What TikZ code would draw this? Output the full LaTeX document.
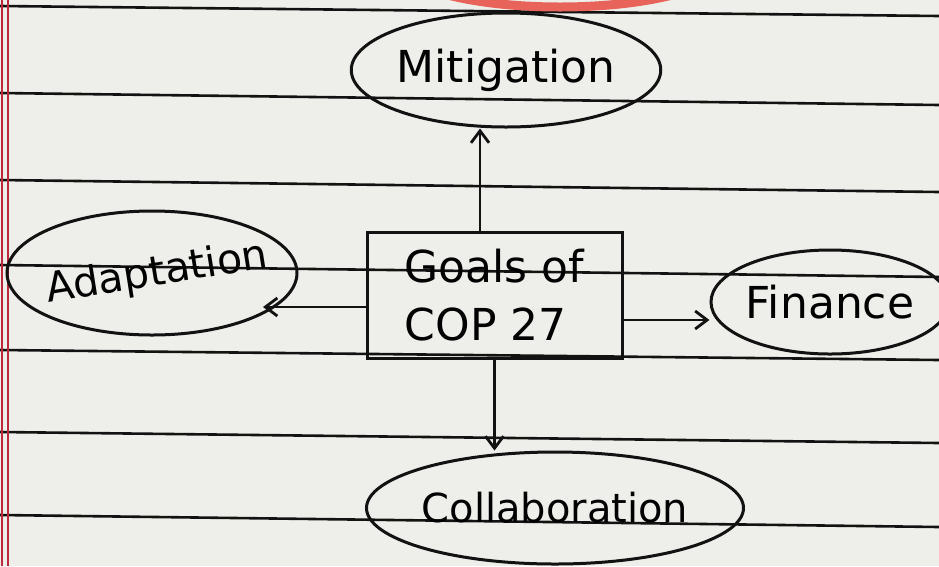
\documentclass[tikz,border=0pt]{standalone}
\usepackage{fontspec}
\setmainfont{DejaVu Sans}
\usetikzlibrary{shapes.geometric,arrows.meta}
\definecolor{paper}{RGB}{238,238,234}
\definecolor{ink}{RGB}{18,18,18}
\definecolor{marginred}{RGB}{190,40,60}
\definecolor{stamp}{RGB}{232,100,90}
\begin{document}
\begin{tikzpicture}[x=1pt,y=-1pt,
  rule/.style={ink, line width=2.6pt},
  bubble/.style={ellipse, draw=ink, line width=3pt, inner sep=0pt, font=\fontsize{44}{50}\selectfont},
  arr/.style={ink, line width=2.8pt, -{Straight Barb[length=12pt,width=18pt]}}]
\useasboundingbox (0,0) rectangle (939,566);
\clip (0,0) rectangle (939,566);
\fill[paper] (0,0) rectangle (939,566);
\foreach \a/\b in {6/16, 93/105, 180/192, 265/277, 350/360, 432/443, 515/527}
  \draw[rule] (0,\a) -- (939,\b);
\draw[marginred, line width=1.4pt] (2,0) -- (2,566);
\draw[marginred, line width=1.4pt] (8,0) -- (8,566);
\draw[stamp, line width=9pt] (560,-35) ellipse [x radius=160pt, y radius=42pt];
\node[bubble, minimum width=300pt, minimum height=114pt] (mit) at (506,70) {Mitigation};
\node[bubble, minimum width=290pt, minimum height=124pt] (adapt) at (152,273) {};
\node[rotate=9, inner sep=0pt, font=\fontsize{41}{46}\selectfont] (adapttext) at (157,274) {Adaptation};
\node[bubble, minimum width=214pt, minimum height=104pt] (fin) at (830,302) {Finance};
\node[bubble, minimum width=342pt, minimum height=112pt, font=\fontsize{40}{46}\selectfont] (col) at (555,508) {Collaboration};
\node[draw=ink, line width=3pt, minimum width=255pt, minimum height=126pt, align=left, inner sep=0pt, font=\fontsize{44}{58}\selectfont] (box) at (494.5,295) {Goals of\\COP 27};
\coordinate (ma) at (480,0);
\coordinate (aa) at (263,307);
\coordinate (fa) at (0,320);
\draw[arr] (box.north -| ma) -- (mit.south -| ma);
\draw[arr] (box.west |- aa) -- (aa);
\draw[arr] (box.east |- fa) -- (fin.west |- fa);
\draw[arr] (box.south) -- (box.south |- col.north);
\end{tikzpicture}
\end{document}
